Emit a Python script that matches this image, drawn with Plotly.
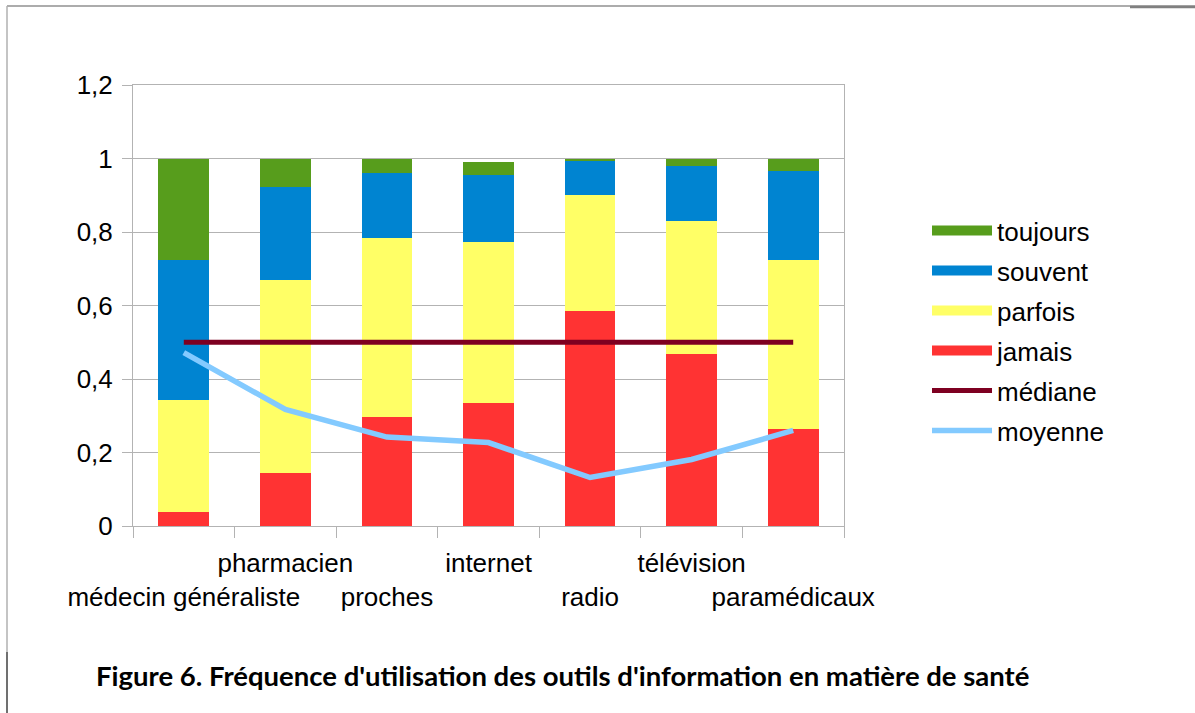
import plotly.graph_objects as go

categories = ["médecin généraliste", "pharmacien", "proches", "internet", "radio", "télévision", "paramédicaux"]
jamais = [0.038, 0.144, 0.297, 0.334, 0.584, 0.467, 0.263]
parfois = [0.304, 0.525, 0.486, 0.438, 0.316, 0.362, 0.460]
souvent = [0.381, 0.253, 0.177, 0.183, 0.092, 0.151, 0.243]
toujours = [0.277, 0.078, 0.040, 0.035, 0.008, 0.020, 0.034]
mediane = [0.5, 0.5, 0.5, 0.5, 0.5, 0.5, 0.5]
moyenne = [0.472, 0.317, 0.242, 0.227, 0.132, 0.181, 0.260]
y_ticks = [0, 0.2, 0.4, 0.6, 0.8, 1, 1.2]
y_ticktext = ["0", "0,2", "0,4", "0,6", "0,8", "1", "1,2"]

FONT = "Liberation Sans, Arial, sans-serif"
FS = 26

fig = go.Figure()
bar_series = [("toujours", toujours, "#579d1c"), ("souvent", souvent, "#0084d1"),
              ("parfois", parfois, "#ffff66"), ("jamais", jamais, "#ff3333")]
# stacked bars: add bottom first
for name, vals, col in reversed(bar_series):
    fig.add_trace(go.Bar(x=categories, y=vals, name=name,
                         marker=dict(color=col, line=dict(width=0)), showlegend=False))
# legend entries drawn as thick line symbols (wide rectangles like the reference)
for name, vals, col in bar_series:
    fig.add_trace(go.Scatter(x=[None], y=[None], mode="lines", name=name, legendgroup=name,
                             line=dict(color=col, width=17)))
fig.add_trace(go.Scatter(x=categories, y=mediane, mode="lines", name="médiane", legendgroup="médiane",
                         line=dict(color="#7e0021", width=5)))
fig.add_trace(go.Scatter(x=categories, y=moyenne, mode="lines", name="moyenne", legendgroup="moyenne",
                         line=dict(color="#83caff", width=5.5)))

ticktext = [("\u00a0<br>" + c) if i % 2 == 0 else c for i, c in enumerate(categories)]

W, H = 1195, 713
L, R, T, B = 133, 844, 85, 526

def px_x(p):  # page pixel -> paper
    return (p - L) / (R - L)

def px_y(p):
    return (B - p) / (B - T)

fig.update_layout(
    width=W, height=H,
    margin=dict(l=L, r=W - R, t=T, b=H - B, autoexpand=False),
    barmode="stack", bargap=0.5,
    plot_bgcolor="white", paper_bgcolor="white",
    font=dict(family=FONT, size=FS, color="black"),
    xaxis=dict(type="category", categoryorder="array", categoryarray=categories,
               tickmode="array", tickvals=categories, ticktext=ticktext,
               tickson="boundaries", ticks="outside", ticklen=11, tickcolor="#b3b3b3",
               showline=True, linecolor="#b3b3b3", mirror=True, showgrid=False,
               ticklabelstandoff=14,
               tickfont=dict(family=FONT, size=FS, color="black"), tickangle=0),
    yaxis=dict(range=[0, 1.2], tickmode="array", tickvals=y_ticks, ticktext=y_ticktext,
               ticks="outside", ticklen=10, tickcolor="#b3b3b3",
               showline=True, linecolor="#b3b3b3", mirror=True, ticklabelstandoff=4,
               showgrid=True, gridcolor="#b3b3b3", gridwidth=1, zeroline=False,
               tickfont=dict(family=FONT, size=FS, color="black")),
    legend=dict(x=px_x(927), y=px_y(207), xanchor="left", yanchor="top",
                font=dict(family=FONT, size=FS, color="black"), traceorder="grouped",
                itemwidth=60, tracegroupgap=3.2, bgcolor="rgba(0,0,0,0)"),
    annotations=[dict(text="Figure 6. Fréquence d'utilisation des outils d'information en matière de santé",
                      xref="paper", yref="paper", x=px_x(562), y=px_y(675),
                      xanchor="center", yanchor="middle", showarrow=False,
                      font=dict(family="Lato, Open Sans, sans-serif", size=27.5, color="black",
                                weight="bold"))],
    shapes=[
        dict(type="line", xref="paper", yref="paper", x0=px_x(7), x1=px_x(1200), y0=px_y(6), y1=px_y(6),
             line=dict(color="#909090", width=1.5)),
        dict(type="line", xref="paper", yref="paper", x0=px_x(7), x1=px_x(7), y0=px_y(6), y1=px_y(720),
             line=dict(color="#b0b0b0", width=1.5)),
        dict(type="line", xref="paper", yref="paper", x0=px_x(7), x1=px_x(7), y0=px_y(652), y1=px_y(720),
             line=dict(color="#707070", width=2)),
        dict(type="line", xref="paper", yref="paper", x0=px_x(1130), x1=px_x(1200), y0=px_y(7), y1=px_y(7),
             line=dict(color="#808080", width=2.5)),
    ],
)

fig.write_html("out.html", config={"displayModeBar": False},
               post_script="document.body.style.margin='0';document.body.style.padding='0';")
